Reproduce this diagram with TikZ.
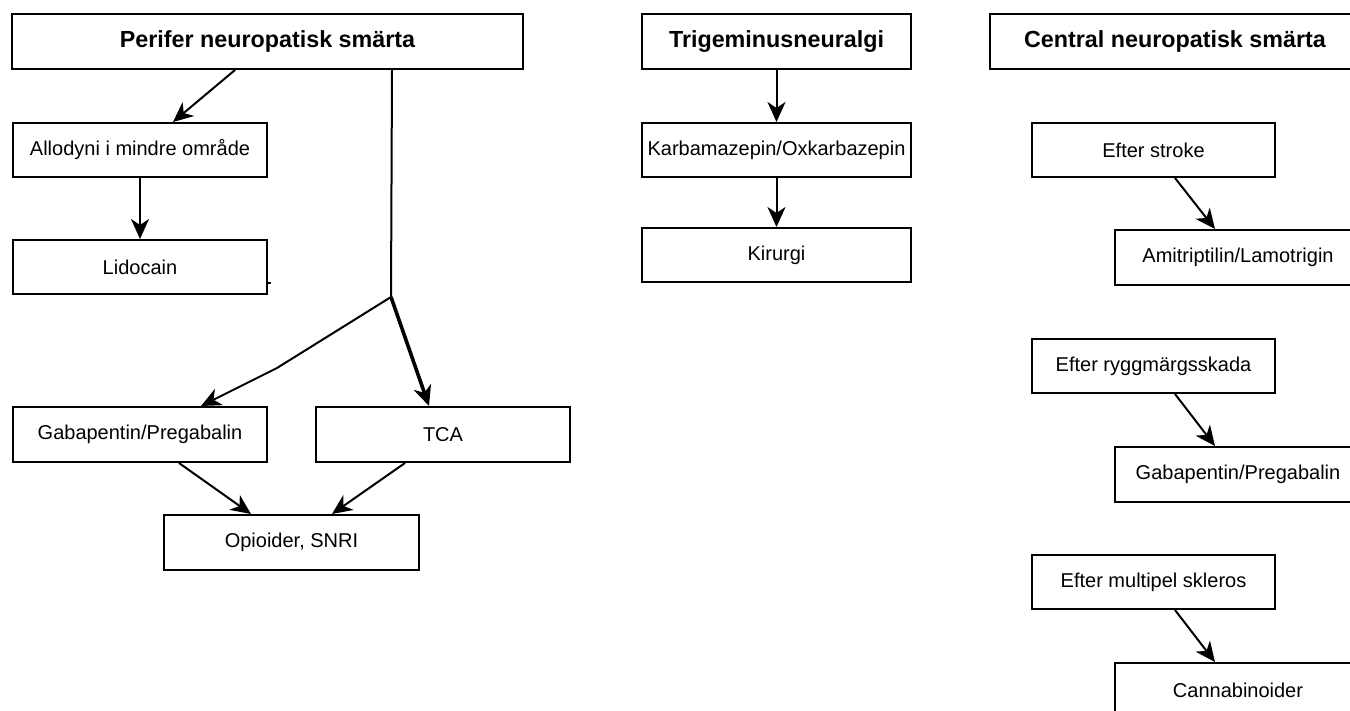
\documentclass[tikz,border=0pt]{standalone}
\usepackage{fontspec}
\setmainfont{Liberation Sans}
\usetikzlibrary{arrows.meta}
\tikzset{
  box/.style={draw, line width=2pt, inner sep=0pt, anchor=north west,
    font=\fontsize{20}{24}\selectfont},
  titlebox/.style={box, font=\bfseries\fontsize{23.3}{28}\selectfont},
  arr/.style={line width=2pt, -{Stealth[length=20pt, width=18pt, inset=6pt]}},
  thickarr/.style={line width=3.6pt, -{Stealth[length=20pt, width=18pt, inset=6pt]}},
  plain/.style={line width=2pt}
}
\begin{document}
\begin{tikzpicture}[x=1pt, y=-1pt]
\useasboundingbox (0,0) rectangle (1350,711);
\clip (0,0) rectangle (1350,711);
% left column
\node[titlebox, minimum width=511pt, minimum height=55pt] (P) at (11,13) {Perifer neuropatisk smärta};
\node[box, minimum width=254pt, minimum height=54pt] (A) at (12,122) {Allodyni i mindre område};
\node[box, minimum width=254pt, minimum height=54pt] (L) at (12,239) {Lidocain};
\node[box, minimum width=254pt, minimum height=55pt] (G) at (12,406) {Gabapentin/Pregabalin};
\node[box, minimum width=254pt, minimum height=55pt] (T) at (315,406) {TCA};
\node[box, minimum width=255pt, minimum height=55pt] (O) at (163,514) {Opioider, SNRI};
% middle column
\node[titlebox, minimum width=269pt, minimum height=55pt] (Tri) at (641,13) {Trigeminusneuralgi};
\node[box, minimum width=269pt, minimum height=54pt] (K) at (641,122) {Karbamazepin/Oxkarbazepin};
\node[box, minimum width=269pt, minimum height=54pt] (Ki) at (641,227) {Kirurgi};
% right column
\node[titlebox, minimum width=370pt, minimum height=55pt] (C) at (989,13) {Central neuropatisk smärta};
\node[box, minimum width=243pt, minimum height=54pt] (ES) at (1031,122) {Efter stroke};
\node[box, minimum width=246pt, minimum height=55pt] (AL) at (1114,229) {Amitriptilin/Lamotrigin};
\node[box, minimum width=243pt, minimum height=54pt] (ER) at (1031,338) {Efter ryggmärgsskada};
\node[box, minimum width=246pt, minimum height=55pt] (GP) at (1114,446) {Gabapentin/Pregabalin};
\node[box, minimum width=243pt, minimum height=54pt] (EM) at (1031,554) {Efter multipel skleros};
\node[box, minimum width=246pt, minimum height=55pt] (CB) at (1114,662) {Cannabinoider};
% connectors left
\coordinate (br) at (391,297);
\coordinate (bend) at (277,368);
\draw[arr] ([xshift=-32.5pt]P.south) -- ([xshift=33pt]A.north);
\draw[arr] (A.south) -- (L.north);
\draw[plain] ([xshift=124.5pt]P.south) -- (br);
\draw[arr] (br) -- (bend) -- ([xshift=61pt]G.north);
\draw[thickarr] (br) -- ([xshift=-14pt]T.north);
\draw[arr] ([xshift=39pt]G.south) -- ([xshift=-40.5pt]O.north);
\draw[arr] ([xshift=-38pt]T.south) -- ([xshift=40.5pt]O.north);
\draw[line width=1.5pt] ([yshift=-16pt]L.east) -- ([xshift=3pt,yshift=-16pt]L.east);
% connectors middle
\draw[arr] (Tri.south) -- (K.north);
\draw[arr] (K.south) -- (Ki.north);
% connectors right
\draw[arr] ([xshift=21.5pt]ES.south) -- ([xshift=-23pt]AL.north);
\draw[arr] ([xshift=21.5pt]ER.south) -- ([xshift=-23pt]GP.north);
\draw[arr] ([xshift=21.5pt]EM.south) -- ([xshift=-23pt]CB.north);
\end{tikzpicture}
\end{document}
